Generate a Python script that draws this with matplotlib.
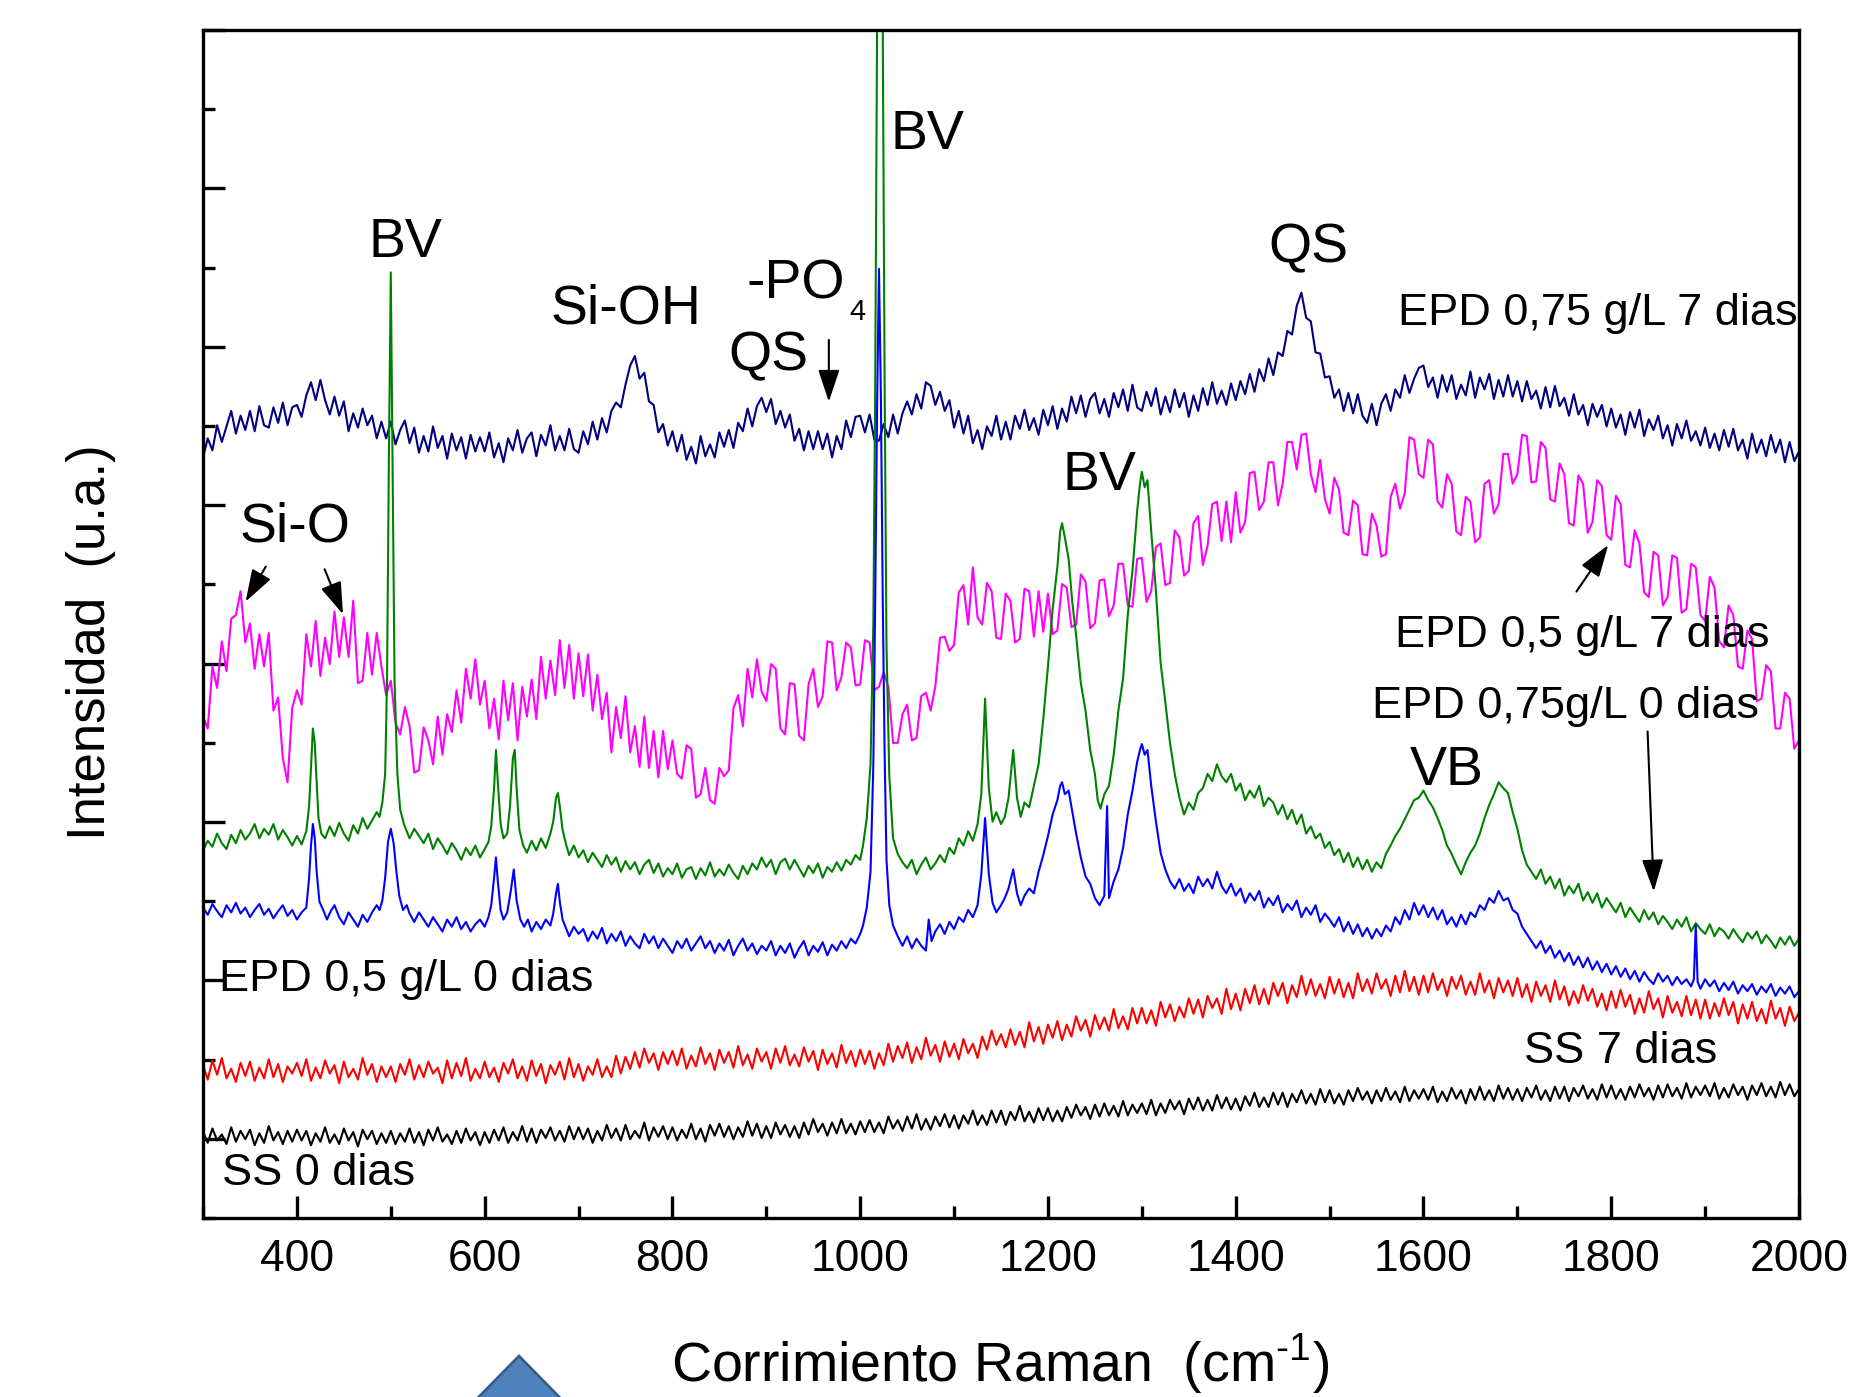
import numpy as np
import matplotlib
matplotlib.use("Agg")
import matplotlib.pyplot as plt
from matplotlib.patches import Polygon

plt.rcParams['font.family'] = ['Liberation Sans', 'DejaVu Sans']
plt.rcParams['mathtext.fontset'] = 'custom'
plt.rcParams['mathtext.rm'] = 'Liberation Sans'

# ---------------- data (Raman shift in cm-1, intensity in a.u. with offsets) ----------------
shift_5 = list(range(300, 2001, 5))

# EPD 0,75 g/L 7 dias (navy)
epd075_7d = [637, 653, 643, 664, 650, 663, 676, 657, 672, 660, 676, 659, 680, 664, 662, 679, 666, 683, 664, 679,
             681, 671, 689, 700, 685, 702, 685, 673, 688, 672, 684, 659, 674, 662, 678, 664, 672, 653, 667, 653,
             667, 648, 660, 668, 649, 662, 641, 655, 642, 663, 645, 655, 636, 657, 643, 654, 636, 656, 642, 654,
             642, 658, 637, 649, 633, 653, 643, 660, 641, 653, 658, 638, 656, 647, 664, 643, 655, 643, 661, 644,
             641, 659, 648, 667, 652, 670, 658, 676, 683, 679, 698, 714, 722, 703, 708, 684, 681, 658, 665, 647,
             659, 642, 656, 635, 646, 632, 655, 638, 648, 637, 658, 646, 660, 645, 666, 659, 678, 663, 680, 687,
             675, 686, 665, 676, 662, 673, 651, 661, 643, 659, 644, 659, 644, 657, 637, 655, 644, 668, 654, 671,
             672, 658, 673, 652, 651, 665, 654, 673, 657, 674, 684, 673, 690, 678, 700, 697, 681, 692, 676, 685,
             662, 676, 657, 672, 649, 660, 644, 663, 655, 672, 652, 667, 652, 672, 661, 677, 660, 670, 656, 677,
             664, 680, 661, 678, 667, 688, 674, 689, 671, 686, 691, 674, 686, 671, 691, 679, 694, 676, 698, 679,
             676, 692, 680, 695, 673, 688, 675, 694, 679, 691, 671, 689, 676, 695, 681, 700, 682, 693, 681, 699,
             685, 701, 690, 707, 692, 711, 701, 720, 706, 725, 722, 743, 740, 764, 775, 754, 751, 725, 724, 704,
             705, 687, 694, 676, 691, 674, 690, 672, 666, 682, 664, 682, 690, 676, 694, 687, 706, 691, 703, 712,
             714, 696, 704, 687, 706, 692, 706, 686, 698, 689, 709, 687, 704, 694, 707, 686, 702, 688, 706, 688,
             701, 684, 701, 686, 693, 678, 696, 679, 697, 680, 687, 672, 690, 673, 681, 664, 682, 671, 681, 663,
             678, 662, 673, 656, 675, 662, 677, 655, 669, 660, 672, 653, 664, 647, 665, 653, 668, 651, 659, 647,
             662, 645, 657, 643, 660, 646, 661, 643, 652, 636, 657, 641, 652, 638, 656, 641, 652, 633, 650, 634,
             642]

# EPD 0,5 g/L 7 dias (magenta)
epd05_7d = [420, 410, 462, 444, 483, 458, 502, 505, 525, 482, 498, 460, 489, 462, 490, 425, 436, 385, 365, 427,
            442, 430, 489, 462, 500, 454, 486, 464, 508, 470, 503, 470, 517, 448, 450, 490, 455, 490, 462, 438,
            450, 415, 405, 428, 412, 373, 375, 411, 400, 380, 420, 388, 422, 407, 442, 415, 460, 435, 468, 430,
            450, 410, 435, 401, 450, 417, 448, 400, 445, 420, 451, 418, 470, 435, 467, 438, 484, 444, 480, 435,
            473, 437, 472, 425, 455, 418, 440, 390, 428, 402, 437, 390, 412, 378, 420, 377, 408, 369, 408, 376,
            400, 372, 368, 396, 393, 352, 355, 377, 350, 347, 377, 370, 375, 427, 438, 412, 460, 436, 468, 441,
            433, 464, 460, 410, 405, 448, 447, 404, 400, 447, 460, 428, 437, 483, 482, 442, 453, 482, 478, 446,
            447, 484, 482, 442, 445, 457, 445, 398, 398, 422, 430, 400, 402, 437, 440, 425, 445, 486, 487, 475,
            480, 524, 530, 497, 545, 503, 497, 532, 525, 486, 485, 523, 517, 482, 485, 527, 525, 487, 525, 491,
            523, 489, 492, 531, 528, 495, 497, 539, 533, 494, 498, 534, 535, 504, 513, 548, 548, 513, 512, 552,
            553, 516, 525, 562, 565, 530, 532, 576, 570, 538, 542, 582, 588, 547, 563, 598, 600, 567, 600, 566,
            608, 574, 583, 624, 625, 593, 600, 633, 633, 597, 615, 650, 650, 627, 656, 657, 623, 608, 635, 602,
            590, 620, 610, 574, 572, 601, 597, 556, 555, 590, 580, 554, 556, 604, 615, 594, 607, 654, 652, 623,
            620, 652, 648, 600, 595, 623, 615, 575, 572, 604, 600, 566, 570, 615, 618, 590, 598, 640, 640, 615,
            623, 656, 655, 616, 617, 650, 645, 602, 600, 632, 623, 582, 580, 622, 615, 574, 583, 618, 613, 572,
            568, 605, 598, 547, 545, 576, 565, 524, 520, 558, 555, 513, 520, 555, 553, 507, 510, 548, 545, 505,
            500, 537, 528, 483, 478, 513, 505, 462, 460, 492, 485, 433, 435, 463, 458, 410, 410, 440, 435, 393,
            400]

# EPD 0,75g/L 0 dias (green): (shift, intensity)
epd075_0d = [(300, 308), (305, 316), (310, 311), (315, 322), (320, 314), (325, 309), (330, 321), (335, 314),
             (340, 325), (345, 317), (350, 322), (355, 330), (360, 318), (365, 326), (370, 321), (375, 330),
             (380, 317), (385, 325), (390, 319), (395, 312), (400, 320), (405, 313), (410, 324), (413, 345),
             (415, 378), (417, 410), (419, 398), (421, 365), (423, 335), (426, 322), (430, 318), (435, 328),
             (440, 320), (445, 331), (450, 322), (455, 316), (460, 329), (465, 322), (470, 335), (475, 326),
             (480, 333), (485, 340), (488, 336), (491, 348), (494, 372), (496, 450), (498, 640), (500, 792),
             (502, 620), (504, 450), (507, 372), (510, 342), (514, 330), (520, 318), (525, 326), (530, 320),
             (535, 314), (540, 322), (545, 309), (550, 318), (555, 312), (560, 305), (565, 314), (570, 308),
             (575, 300), (580, 310), (585, 304), (590, 312), (595, 302), (600, 309), (604, 315), (607, 328),
             (610, 360), (612, 392), (614, 365), (617, 330), (620, 318), (624, 322), (627, 345), (630, 385),
             (632, 392), (634, 360), (637, 325), (641, 312), (645, 306), (650, 316), (655, 308), (660, 318),
             (665, 310), (670, 322), (673, 332), (676, 352), (678, 356), (680, 345), (683, 325), (687, 312),
             (690, 304), (695, 312), (700, 302), (705, 308), (710, 298), (715, 306), (720, 300), (725, 294),
             (730, 304), (735, 296), (740, 302), (745, 290), (750, 299), (755, 292), (760, 298), (765, 288),
             (770, 296), (775, 300), (780, 289), (785, 297), (790, 286), (795, 293), (800, 288), (805, 297),
             (810, 285), (815, 292), (820, 294), (825, 284), (830, 293), (835, 287), (840, 298), (845, 286),
             (850, 292), (855, 287), (860, 296), (865, 289), (870, 284), (875, 295), (880, 288), (885, 297),
             (890, 292), (895, 302), (900, 294), (905, 300), (910, 288), (915, 298), (920, 301), (925, 292),
             (930, 300), (935, 293), (940, 286), (945, 295), (950, 289), (955, 297), (960, 285), (965, 294),
             (970, 290), (975, 298), (980, 291), (985, 300), (990, 296), (995, 304), (1000, 300), (1003, 312),
             (1007, 335), (1011, 380), (1014, 500), (1016, 700), (1018, 1000), (1020, 1150), (1022, 1150),
             (1024, 1000), (1026, 700), (1028, 480), (1031, 370), (1035, 318), (1040, 305), (1045, 298),
             (1050, 293), (1055, 300), (1060, 288), (1065, 296), (1070, 302), (1075, 292), (1080, 297),
             (1085, 304), (1090, 298), (1095, 310), (1100, 305), (1105, 318), (1110, 312), (1115, 324),
             (1120, 316), (1125, 330), (1129, 355), (1133, 435), (1137, 360), (1141, 332), (1145, 340),
             (1150, 330), (1154, 336), (1158, 352), (1163, 392), (1167, 352), (1171, 336), (1175, 348),
             (1180, 344), (1185, 362), (1190, 380), (1195, 418), (1200, 462), (1205, 510), (1210, 545),
             (1213, 575), (1215, 582), (1218, 570), (1222, 552), (1226, 515), (1230, 488), (1235, 448),
             (1240, 425), (1245, 392), (1250, 372), (1253, 350), (1256, 343), (1260, 355), (1265, 362),
             (1270, 388), (1275, 425), (1280, 452), (1285, 505), (1290, 542), (1295, 592), (1298, 615),
             (1300, 625), (1303, 612), (1306, 618), (1310, 575), (1315, 525), (1320, 465), (1325, 432),
             (1330, 398), (1335, 372), (1340, 352), (1345, 338), (1350, 348), (1355, 342), (1360, 356),
             (1365, 360), (1370, 372), (1375, 366), (1380, 380), (1385, 370), (1390, 365), (1395, 372),
             (1400, 358), (1405, 364), (1410, 350), (1415, 358), (1420, 352), (1425, 362), (1430, 345),
             (1435, 352), (1440, 348), (1445, 338), (1450, 346), (1455, 334), (1460, 342), (1465, 330),
             (1470, 338), (1475, 322), (1480, 328), (1485, 318), (1490, 322), (1495, 310), (1500, 315),
             (1505, 304), (1510, 309), (1515, 298), (1520, 306), (1525, 294), (1530, 302), (1535, 292),
             (1540, 300), (1545, 290), (1550, 298), (1555, 293), (1560, 305), (1565, 312), (1570, 320),
             (1575, 326), (1580, 334), (1585, 342), (1590, 350), (1595, 352), (1600, 358), (1605, 350),
             (1610, 344), (1615, 335), (1620, 325), (1625, 312), (1630, 305), (1635, 296), (1640, 288),
             (1645, 298), (1650, 306), (1655, 312), (1660, 322), (1665, 335), (1670, 346), (1675, 355),
             (1680, 365), (1685, 360), (1690, 356), (1695, 340), (1700, 326), (1705, 308), (1710, 296),
             (1715, 290), (1720, 284), (1725, 292), (1730, 280), (1735, 286), (1740, 276), (1745, 284),
             (1750, 270), (1755, 278), (1760, 272), (1765, 280), (1770, 266), (1775, 273), (1780, 264),
             (1785, 272), (1790, 260), (1795, 268), (1800, 262), (1805, 256), (1810, 264), (1815, 252),
             (1820, 260), (1825, 254), (1830, 248), (1835, 258), (1840, 250), (1845, 256), (1850, 246),
             (1855, 253), (1860, 248), (1865, 242), (1870, 250), (1875, 244), (1880, 252), (1885, 240),
             (1890, 247), (1895, 242), (1900, 238), (1905, 246), (1910, 236), (1915, 243), (1920, 240),
             (1925, 234), (1930, 242), (1935, 236), (1940, 231), (1945, 239), (1950, 234), (1955, 240),
             (1960, 230), (1965, 237), (1970, 232), (1975, 226), (1980, 235), (1985, 229), (1990, 236),
             (1995, 228), (2000, 234)]

# EPD 0,5 g/L 0 dias (blue): (shift, intensity)
epd05_0d = [(300, 260), (305, 254), (310, 263), (315, 257), (320, 252), (325, 262), (330, 256), (335, 264),
            (340, 255), (345, 260), (350, 252), (355, 258), (360, 263), (365, 254), (370, 259), (375, 251),
            (380, 257), (385, 262), (390, 253), (395, 258), (400, 250), (405, 256), (410, 260), (413, 285),
            (415, 312), (417, 330), (419, 318), (421, 290), (424, 265), (428, 258), (432, 250), (436, 257),
            (440, 262), (445, 252), (450, 246), (455, 256), (460, 250), (465, 244), (470, 254), (475, 248),
            (480, 256), (485, 262), (488, 258), (491, 266), (494, 285), (497, 315), (500, 326), (503, 314),
            (506, 290), (509, 270), (513, 258), (517, 262), (520, 255), (525, 248), (530, 256), (535, 250),
            (540, 244), (545, 252), (550, 246), (555, 240), (560, 250), (565, 244), (570, 252), (575, 242),
            (580, 248), (585, 240), (590, 246), (595, 250), (600, 244), (604, 252), (607, 262), (610, 285),
            (612, 302), (614, 282), (617, 258), (620, 250), (624, 256), (628, 275), (631, 292), (634, 266),
            (638, 250), (642, 244), (646, 250), (650, 240), (655, 248), (660, 242), (665, 250), (670, 245),
            (673, 255), (676, 272), (678, 280), (680, 265), (683, 250), (687, 242), (690, 236), (695, 244),
            (700, 238), (705, 242), (710, 232), (715, 240), (720, 234), (725, 243), (730, 230), (735, 238),
            (740, 232), (745, 240), (750, 228), (755, 236), (760, 230), (765, 226), (770, 238), (775, 230),
            (780, 236), (785, 226), (790, 234), (795, 228), (800, 222), (805, 232), (810, 226), (815, 234),
            (820, 224), (825, 230), (830, 236), (835, 226), (840, 232), (845, 222), (850, 230), (855, 224),
            (860, 233), (865, 220), (870, 228), (875, 234), (880, 224), (885, 230), (890, 221), (895, 228),
            (900, 224), (905, 232), (910, 220), (915, 228), (920, 222), (925, 230), (930, 218), (935, 226),
            (940, 232), (945, 220), (950, 228), (955, 223), (960, 231), (965, 220), (970, 229), (975, 224),
            (980, 232), (985, 226), (990, 234), (995, 230), (1000, 238), (1003, 245), (1007, 260), (1011, 290),
            (1014, 380), (1016, 520), (1018, 680), (1020, 795), (1022, 690), (1024, 520), (1026, 390),
            (1028, 300), (1031, 262), (1035, 245), (1040, 236), (1045, 228), (1050, 236), (1055, 226),
            (1060, 234), (1065, 228), (1070, 224), (1073, 250), (1076, 232), (1080, 240), (1085, 246),
            (1090, 238), (1095, 248), (1100, 242), (1105, 252), (1110, 248), (1115, 258), (1120, 252),
            (1125, 262), (1129, 288), (1133, 335), (1137, 288), (1141, 264), (1145, 256), (1150, 262),
            (1154, 268), (1158, 276), (1163, 292), (1167, 272), (1171, 262), (1175, 270), (1180, 276),
            (1185, 272), (1190, 290), (1195, 304), (1200, 320), (1205, 338), (1210, 350), (1213, 362),
            (1215, 365), (1218, 355), (1222, 358), (1226, 340), (1230, 322), (1235, 302), (1240, 286),
            (1245, 280), (1250, 268), (1255, 262), (1260, 270), (1263, 345), (1265, 268), (1270, 282),
            (1275, 292), (1280, 310), (1285, 338), (1290, 358), (1295, 382), (1298, 392), (1300, 397),
            (1303, 388), (1306, 392), (1310, 362), (1315, 332), (1320, 306), (1325, 292), (1330, 282),
            (1335, 276), (1340, 284), (1345, 274), (1350, 280), (1355, 272), (1360, 286), (1365, 278),
            (1370, 284), (1375, 276), (1380, 290), (1385, 278), (1390, 272), (1395, 280), (1400, 270),
            (1405, 276), (1410, 264), (1415, 272), (1420, 266), (1425, 274), (1430, 260), (1435, 268),
            (1440, 262), (1445, 270), (1450, 256), (1455, 263), (1460, 258), (1465, 266), (1470, 252),
            (1475, 260), (1480, 254), (1485, 262), (1490, 248), (1495, 255), (1500, 250), (1505, 244),
            (1510, 252), (1515, 240), (1520, 248), (1525, 238), (1530, 246), (1535, 236), (1540, 243),
            (1545, 234), (1550, 242), (1555, 236), (1560, 245), (1565, 240), (1570, 252), (1575, 246),
            (1580, 258), (1585, 250), (1590, 264), (1595, 254), (1600, 262), (1605, 252), (1610, 260),
            (1615, 250), (1620, 258), (1625, 246), (1630, 252), (1635, 244), (1640, 254), (1645, 246),
            (1650, 256), (1655, 252), (1660, 262), (1665, 258), (1670, 268), (1675, 264), (1680, 274),
            (1685, 266), (1690, 268), (1695, 258), (1700, 255), (1705, 244), (1710, 238), (1715, 232),
            (1720, 226), (1725, 232), (1730, 222), (1735, 228), (1740, 218), (1745, 224), (1750, 215),
            (1755, 222), (1760, 212), (1765, 219), (1770, 210), (1775, 218), (1780, 208), (1785, 215),
            (1790, 206), (1795, 213), (1800, 204), (1805, 211), (1810, 202), (1815, 209), (1820, 200),
            (1825, 207), (1830, 198), (1835, 206), (1840, 200), (1845, 196), (1850, 205), (1855, 198),
            (1860, 203), (1865, 195), (1870, 202), (1875, 196), (1880, 200), (1885, 194), (1888, 200),
            (1890, 245), (1892, 198), (1895, 192), (1900, 200), (1905, 194), (1910, 199), (1915, 190),
            (1920, 197), (1925, 191), (1930, 198), (1935, 188), (1940, 195), (1945, 190), (1950, 196),
            (1955, 187), (1960, 194), (1965, 189), (1970, 196), (1975, 186), (1980, 193), (1985, 188),
            (1990, 194), (1995, 185), (2000, 190)]

# SS 7 dias (red)
ss_7d = [128, 116, 132, 120, 134, 117, 125, 114, 130, 119, 131, 115, 126, 117, 133, 118, 129, 114, 127, 121,
         130, 119, 133, 115, 126, 117, 132, 121, 128, 113, 131, 118, 125, 116, 134, 120, 129, 114, 127, 118,
         127, 114, 129, 120, 133, 116, 128, 118, 131, 121, 126, 113, 132, 117, 130, 119, 134, 115, 125, 117,
         131, 118, 126, 114, 130, 121, 133, 117, 127, 115, 132, 119, 129, 113, 128, 120, 131, 116, 134, 118,
         129, 115, 127, 120, 133, 118, 127, 118, 136, 121, 135, 125, 139, 126, 142, 130, 138, 124, 139, 129,
         140, 128, 142, 125, 136, 127, 143, 129, 138, 124, 141, 130, 139, 126, 144, 128, 137, 125, 142, 131,
         139, 125, 142, 130, 144, 128, 137, 127, 143, 131, 140, 124, 141, 129, 138, 126, 145, 130, 140, 127,
         141, 129, 140, 125, 138, 128, 146, 131, 144, 134, 147, 130, 143, 133, 151, 136, 145, 131, 148, 135,
         146, 133, 150, 138, 146, 134, 152, 141, 157, 145, 154, 143, 158, 145, 156, 143, 164, 148, 160, 146,
         162, 151, 165, 149, 162, 152, 169, 157, 166, 152, 170, 158, 168, 157, 175, 159, 169, 158, 176, 163,
         176, 163, 174, 161, 181, 168, 179, 165, 177, 168, 184, 171, 183, 168, 186, 176, 184, 171, 192, 175,
         188, 174, 192, 180, 195, 179, 192, 179, 197, 186, 197, 180, 195, 185, 203, 187, 200, 186, 196, 184,
         202, 188, 200, 185, 197, 184, 205, 190, 200, 188, 205, 192, 200, 186, 203, 189, 207, 190, 202, 187,
         203, 189, 205, 191, 200, 186, 202, 192, 203, 187, 198, 187, 205, 189, 199, 184, 201, 189, 199, 186,
         201, 185, 196, 181, 198, 186, 195, 181, 199, 183, 194, 178, 190, 180, 195, 182, 192, 177, 188, 174,
         190, 176, 191, 177, 187, 171, 184, 172, 190, 175, 184, 168, 186, 172, 181, 169, 186, 170, 183, 167,
         183, 167, 180, 169, 184, 170, 181, 163, 179, 167, 181, 165, 175, 163, 182, 167, 176, 161, 177, 165,
         172]

# SS 0 dias (black)
ss_0d = [72, 63, 75, 65, 70, 62, 76, 64, 73, 66, 74, 61, 71, 63, 77, 65, 72, 62, 73, 64,
         74, 65, 73, 61, 71, 64, 76, 63, 70, 62, 75, 65, 72, 60, 74, 66, 73, 62, 71, 63,
         73, 62, 71, 64, 75, 63, 72, 61, 74, 65, 76, 64, 70, 62, 73, 63, 75, 65, 72, 61,
         72, 63, 74, 65, 76, 63, 72, 65, 77, 64, 75, 63, 74, 67, 76, 65, 73, 64, 77, 66,
         76, 66, 75, 63, 73, 65, 78, 67, 75, 65, 78, 66, 73, 67, 80, 65, 76, 68, 77, 66,
         76, 65, 74, 67, 79, 66, 75, 64, 78, 69, 79, 68, 77, 66, 76, 68, 81, 69, 79, 67,
         77, 67, 80, 70, 78, 68, 77, 67, 80, 70, 83, 72, 79, 69, 80, 71, 83, 71, 79, 70,
         81, 72, 82, 72, 80, 71, 85, 75, 82, 73, 85, 75, 87, 74, 83, 74, 85, 77, 87, 76,
         86, 75, 86, 79, 90, 78, 86, 78, 90, 80, 90, 78, 89, 82, 94, 81, 89, 80, 92, 82,
         92, 81, 90, 81, 93, 84, 95, 86, 93, 83, 95, 85, 96, 86, 94, 85, 98, 86, 95, 88,
         96, 87, 99, 86, 96, 88, 99, 91, 98, 87, 100, 91, 101, 90, 99, 90, 103, 92, 101, 91,
         100, 90, 102, 94, 105, 93, 101, 93, 105, 95, 105, 93, 104, 97, 107, 96, 104, 95, 108, 97,
         107, 96, 104, 95, 107, 98, 109, 99, 106, 96, 107, 98, 109, 99, 106, 97, 110, 98, 107, 100,
         108, 99, 110, 97, 106, 98, 109, 100, 107, 96, 108, 99, 110, 99, 107, 98, 111, 100, 109, 99,
         108, 98, 109, 101, 111, 99, 107, 98, 110, 100, 110, 98, 109, 102, 111, 100, 108, 99, 112, 101,
         111, 100, 108, 99, 110, 101, 112, 102, 109, 99, 111, 101, 112, 102, 109, 100, 113, 101, 110, 103,
         111, 102, 113, 100, 109, 101, 112, 103, 110, 99, 111, 103, 113, 102, 110, 101, 114, 103, 112, 102,
         108]

# ---------------- figure ----------------
fig = plt.figure(figsize=(18.73, 13.97), dpi=100)
ax = fig.add_axes([0.1084, 0.1281, 0.8521, 0.8504])

lw = 1.5
ax.plot(shift_5, ss_0d, color='black', lw=lw)
ax.plot(shift_5, ss_7d, color='#FF0000', lw=lw)
ax.plot(shift_5, epd05_7d, color='#FF00FF', lw=lw)
ax.plot(shift_5, epd075_7d, color='#000080', lw=lw)
gx, gy = zip(*epd075_0d)
ax.plot(gx, gy, color='#008000', lw=lw)
bx, by = zip(*epd05_0d)
ax.plot(bx, by, color='#0000FF', lw=lw)

ax.set_xlim(300, 2000)
ax.set_ylim(0, 995)
ax.set_xticks(np.arange(400, 2001, 200))
ax.set_xticks(np.arange(300, 2001, 100), minor=True)
yt = np.linspace(0, 995, 16)
ax.set_yticks(yt[1::2])
ax.set_yticks(yt[0::2], minor=True)
ax.tick_params(axis='both', which='major', direction='in', length=16, width=2.4,
               labelsize=32, pad=15, labelleft=False)
ax.tick_params(axis='both', which='minor', direction='in', length=8.5, width=2.4)
for s in ax.spines.values():
    s.set_linewidth(2.4)

fs_big = 40
fs_lab = 32.5
T = dict(ha='left', va='baseline')
ax.text(1032, 895, 'BV', fontsize=fs_big, **T)
ax.text(476, 805, 'BV', fontsize=fs_big, **T)
ax.text(670, 749, 'Si-OH', fontsize=fs_big, **T)
ax.text(879, 770, '-PO', fontsize=fs_big, **T)
ax.text(988, 752, '4', fontsize=21, **T)
ax.text(860, 710, 'QS', fontsize=fs_big, **T)
ax.text(1435, 800, 'QS', fontsize=fs_big, **T)
ax.text(1216, 610, 'BV', fontsize=fs_big, **T)
ax.text(339, 567, 'Si-O', fontsize=fs_big, **T)
ax.text(1585, 363, 'VB', fontsize=fs_big, **T)
ax.text(1573, 748, 'EPD 0,75 g/L 7 dias', fontsize=fs_lab, **T)
ax.text(1570, 478, 'EPD 0,5 g/L 7 dias', fontsize=fs_lab, **T)
ax.text(1545, 419, 'EPD 0,75g/L 0 dias', fontsize=fs_lab, **T)
ax.text(317, 190, 'EPD 0,5 g/L 0 dias', fontsize=fs_lab, **T)
ax.text(1707, 130, 'SS 7 dias', fontsize=fs_lab, **T)
ax.text(320, 28, 'SS 0 dias', fontsize=fs_lab, **T)

arrow_style = dict(arrowstyle='-|>,head_length=0.9,head_width=0.3', color='black',
                   lw=1.5, mutation_scale=22, shrinkA=0, shrinkB=0)
arrows = [((366.8, 545.6), (345.3, 516.3)),
          ((429.5, 543.4), (449.1, 505.7)),
          ((966.6, 735.4), (966.6, 683.7)),
          ((1762.9, 524.7), (1796.8, 563.7)),
          ((1838.7, 407.5), (1845.3, 273.5))]
for tail, head in arrows:
    ax.annotate('', xy=head, xytext=tail, arrowprops=arrow_style)

fig.text(0.0561, 0.5404, 'Intensidad  (u.a.)', rotation=90, rotation_mode='anchor',
         ha='center', va='baseline', fontsize=38)
fig.text(0.534, 0.0107, r'Corrimiento Raman  (cm$^{\text{-1}}$)', ha='center',
         va='baseline', fontsize=40)

tri = Polygon([(467 / 1873, -12 / 1397), (519 / 1873, 41 / 1397), (571 / 1873, -12 / 1397)],
              closed=True, transform=fig.transFigure, facecolor='#4F81BD',
              edgecolor='#385D8A', lw=2.0)
fig.add_artist(tri)

fig.savefig('out.png', dpi=100)
